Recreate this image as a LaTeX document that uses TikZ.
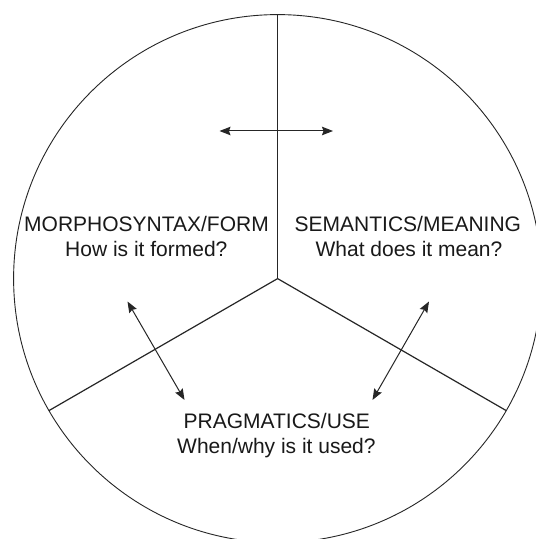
\documentclass[tikz,border=0pt]{standalone}
\usepackage{fontspec}
\setmainfont{Liberation Sans}
\usetikzlibrary{arrows.meta,calc}
\begin{document}
\begin{tikzpicture}[x=1pt,y=1pt,
  lbl/.style={inner sep=0pt,anchor=base,text=black!90,font=\fontsize{21}{25}\selectfont},
  divider/.style={line width=1.2pt,black!85},
  rim/.style={line width=0.9pt,black!85},
  dbl/.style={line width=1pt,black!85,{Stealth[length=11pt,width=8.5pt,inset=1.5pt]}-{Stealth[length=11pt,width=8.5pt,inset=1.5pt]}}]
\useasboundingbox (0,0) rectangle (536,539);
\fill[white] (0,0) rectangle (536,539);
\begin{scope}
\clip (0,0) rectangle (536,539);
\coordinate (hub) at (277.6,260.4);
\draw[rim] (hub) circle[radius=264];
\coordinate (top) at ($(hub)+(90:264)$);
\coordinate (left) at ($(hub)+(210:264)$);
\coordinate (right) at ($(hub)+(-30:264)$);
\draw[divider] (hub) -- (top);
\draw[divider] (hub) -- (left);
\draw[divider] (hub) -- (right);
\end{scope}
% arrows
\coordinate (hA) at (219.5,408);
\coordinate (hB) at (333,408);
\draw[dbl] (hA) -- (hB);
\coordinate (lA) at (127.5,237.5);
\coordinate (lB) at (184.5,139);
\draw[dbl] (lA) -- (lB);
\coordinate (rA) at (429,237.5);
\coordinate (rB) at (372.5,139);
\draw[dbl] (rA) -- (rB);
% labels
\node[lbl] (m1) at (146.5,307.5) {MORPHOSYNTAX/FORM};
\node[lbl] (m2) at (146.3,282) {How is it formed?};
\node[lbl] (s1) at (407.9,307.5) {SEMANTICS/MEANING};
\node[lbl] (s2) at (409,282) {What does it mean?};
\node[lbl] (p1) at (276.8,110.4) {PRAGMATICS/USE};
\node[lbl] (p2) at (276.4,85.8) {When/why is it used?};
\end{tikzpicture}
\end{document}
